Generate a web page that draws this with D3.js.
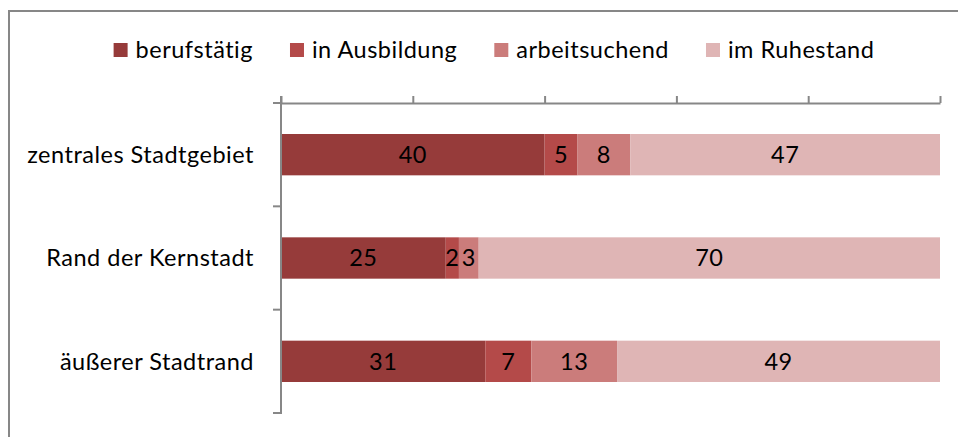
<!DOCTYPE html>
<html><head><meta charset="utf-8">
<script src="https://cdn.jsdelivr.net/npm/d3@7"></script>
<style>
html,body{margin:0;padding:0;background:#fff;}
svg{display:block;font-family:Lato,"Open Sans",sans-serif;}
</style></head>
<body>
<svg id="chart" width="958" height="437"></svg>
<script>
const categories = ["zentrales Stadtgebiet", "Rand der Kernstadt", "äußerer Stadtrand"];
const seriesNames = ["berufstätig", "in Ausbildung", "arbeitsuchend", "im Ruhestand"];
const berufstaetig = [40, 25, 31];
const inAusbildung = [5, 2, 7];
const arbeitsuchend = [8, 3, 13];
const imRuhestand = [47, 70, 49];
const xTicks = [0, 20, 40, 60, 80, 100];
const colors = ["#963b3a", "#b44a49", "#cb7c7b", "#dfb5b5"];

const seriesValues = [berufstaetig, inAusbildung, arbeitsuchend, imRuhestand];
const rows = categories.map((c, i) => {
  const r = {cat: c};
  seriesNames.forEach((s, j) => r[s] = seriesValues[j][i]);
  return r;
});

const svg = d3.select("#chart");
const FONT = 23.5;
const LS = 0.5;

// frame
svg.append("rect").attr("x", 9).attr("y", 11).attr("width", 1000).attr("height", 500)
  .attr("fill", "none").attr("stroke", "#878787").attr("stroke-width", 2);

const x = d3.scaleLinear().domain([0, 100]).range([281, 940]);
const y = d3.scaleBand().domain(categories).range([103, 413]).paddingInner(0.6).paddingOuter(0.3);

const stack = d3.stack().keys(seriesNames);
const stacked = stack(rows);

const g = svg.append("g");
stacked.forEach((layer, j) => {
  g.append("g").selectAll("rect").data(layer).join("rect")
    .attr("x", d => x(d[0]))
    .attr("y", d => y(d.data.cat))
    .attr("width", d => x(d[1]) - x(d[0]))
    .attr("height", y.bandwidth())
    .attr("fill", colors[j]);
});
// labels
stacked.forEach((layer, j) => {
  g.append("g").selectAll("text").data(layer).join("text")
    .attr("x", d => (x(d[0]) + x(d[1])) / 2)
    .attr("y", d => y(d.data.cat) + y.bandwidth() / 2)
    .attr("dy", "0.36em")
    .attr("text-anchor", "middle")
    .attr("font-size", FONT)
    .attr("letter-spacing", LS)
    .attr("fill", "#000")
    .text(d => d.data[layer.key]);
});

// top axis
const axTop = svg.append("g").attr("transform", "translate(0,103)")
  .call(d3.axisTop(x).tickValues(xTicks).tickSize(7).tickSizeOuter(0).tickFormat(""));
axTop.select(".domain").attr("stroke", "#878787").attr("stroke-width", 2);
axTop.selectAll(".tick line").attr("stroke", "#878787").attr("stroke-width", 2);

// left axis (category)
const step = y.step();
const bounds = categories.map(c => y(c) - step * y.paddingInner() / 2);
bounds.push(y.range()[1]);
svg.append("line").attr("x1", 281).attr("x2", 281).attr("y1", 96).attr("y2", y.range()[1] + 1)
  .attr("stroke", "#878787").attr("stroke-width", 2);
svg.append("g").selectAll("line").data(bounds).join("line")
  .attr("x1", 273).attr("x2", 281).attr("y1", d => d).attr("y2", d => d)
  .attr("stroke", "#878787").attr("stroke-width", 2);

// category labels
svg.append("g").selectAll("text").data(categories).join("text")
  .attr("x", 254).attr("y", d => y(d) + y.bandwidth() / 2).attr("dy", "0.36em")
  .attr("text-anchor", "end").attr("font-size", FONT).attr("letter-spacing", LS).attr("fill", "#000")
  .text(d => d);

// legend
const leg = svg.append("g");
const items = leg.selectAll("g").data(seriesNames).join("g");
items.append("rect").attr("width", 14).attr("height", 14).attr("y", 43)
  .attr("fill", (d, i) => colors[i]);
items.append("text").attr("x", 22).attr("y", 50).attr("dy", "0.36em")
  .attr("font-size", FONT).attr("letter-spacing", LS).attr("fill", "#000").text(d => d);
let cx = 0;
const pos = [];
items.each(function () {
  const w = d3.select(this).select("text").node().getComputedTextLength();
  pos.push(cx);
  cx += 22 + w + 37;
});
const total = cx - 37;
const start = 494 - total / 2;
items.attr("transform", (d, i) => `translate(${start + pos[i]},0)`);
</script>
</body></html>
